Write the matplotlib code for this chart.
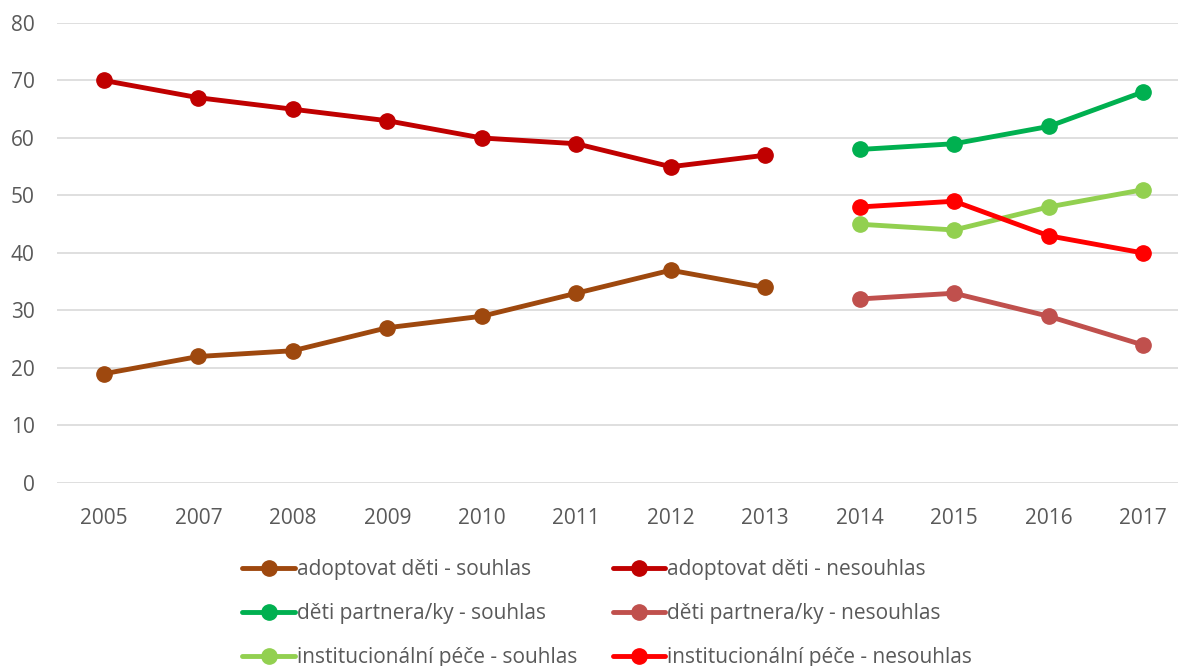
import matplotlib
matplotlib.use("Agg")
import matplotlib.pyplot as plt
import numpy as np

years = ["2005", "2007", "2008", "2009", "2010", "2011", "2012", "2013",
         "2014", "2015", "2016", "2017"]
nan = np.nan
adopt_souhlas = [19, 22, 23, 27, 29, 33, 37, 34, nan, nan, nan, nan]
adopt_nesouhlas = [70, 67, 65, 63, 60, 59, 55, 57, nan, nan, nan, nan]
deti_souhlas = [nan] * 8 + [58, 59, 62, 68]
deti_nesouhlas = [nan] * 8 + [32, 33, 29, 24]
inst_souhlas = [nan] * 8 + [45, 44, 48, 51]
inst_nesouhlas = [nan] * 8 + [48, 49, 43, 40]

series = [
    ("adoptovat děti - souhlas", adopt_souhlas, "#9E480E"),
    ("děti partnera/ky - souhlas", deti_souhlas, "#00B050"),
    ("institucionální péče - souhlas", inst_souhlas, "#92D050"),
    ("adoptovat děti - nesouhlas", adopt_nesouhlas, "#C00000"),
    ("děti partnera/ky - nesouhlas", deti_nesouhlas, "#C0504D"),
    ("institucionální péče - nesouhlas", inst_nesouhlas, "#FF0000"),
]

plt.rcParams["font.family"] = ["Open Sans", "DejaVu Sans"]

fig = plt.figure(figsize=(11.78, 6.66), dpi=100)
ax = fig.add_axes([0.0482, 0.2748, 0.9622, 0.6907])
x = np.arange(len(years))
for name, vals, col in series:
    ax.plot(x, vals, color=col, lw=3.5, marker="o", ms=11, label=name,
            solid_capstyle="round")

ax.set_xlim(-0.5, len(years) - 0.5)
ax.set_ylim(0, 80)
ax.set_yticks(range(0, 81, 10))
ax.set_xticks(x)
ax.set_xticklabels(years)
ax.grid(axis="y", color="#D9D9D9", lw=1.2)
ax.set_axisbelow(True)
for s in ax.spines.values():
    s.set_visible(False)
ax.tick_params(length=0, labelsize=15, labelcolor="#595959")
ax.tick_params(axis="x", pad=18)
ax.tick_params(axis="y", pad=16)

fig.legend(loc="upper left", bbox_to_anchor=(0.197, 0.176), ncol=2, frameon=False,
           fontsize=15, labelcolor="#595959", handlelength=2.5,
           handletextpad=0.1, columnspacing=1.72, labelspacing=1.1,
           borderpad=0)

fig.savefig("out.png", dpi=100, facecolor="white")
